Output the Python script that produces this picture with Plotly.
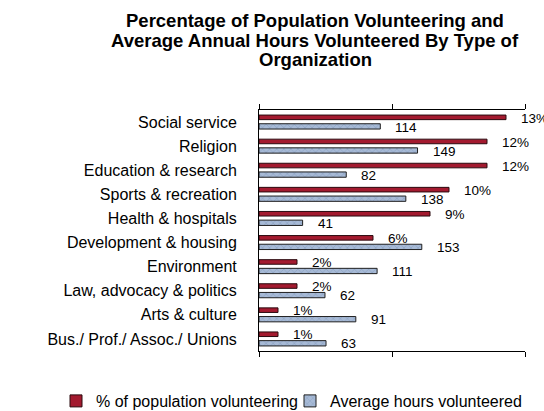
import plotly.graph_objects as go

categories = ["Social service", "Religion", "Education & research", "Sports & recreation",
              "Health & hospitals", "Development & housing", "Environment",
              "Law, advocacy & politics", "Arts & culture", "Bus./ Prof./ Assoc./ Unions"]
pct_volunteering = [13, 12, 12, 10, 9, 6, 2, 2, 1, 1]
avg_hours = [114, 149, 82, 138, 41, 153, 111, 62, 91, 63]
pct_labels = [f"{v}%" for v in pct_volunteering]
hour_labels = [str(v) for v in avg_hours]
title_lines = ["Percentage of Population Volunteering and",
               "Average Annual Hours Volunteered By Type of",
               "Organization"]

FONT = "Liberation Sans, Arial, sans-serif"
RED = "#A31A2F"
BLUE = "#A7BAD6"

W, H = 544, 411
L, R, T, B = 259, 19, 110, 60
PW, PH = W - L - R, H - T - B


def px_x(px):
    return (px - L) / PW


def px_y(py):
    return (H - B - py) / PH


fig = go.Figure()
fig.add_trace(go.Bar(
    y=categories, x=pct_volunteering, orientation="h", xaxis="x2", yaxis="y",
    name="% of population volunteering", legend="legend",
    offset=-0.29, width=0.19,
    marker=dict(color=RED, line=dict(color="#2b0a0f", width=1)),
))
fig.add_trace(go.Bar(
    y=categories, x=avg_hours, orientation="h", xaxis="x", yaxis="y",
    name="Average hours volunteered", legend="legend2",
    offset=0.07, width=0.22,
    marker=dict(color=BLUE, line=dict(color="#1f1f1f", width=1),
                pattern=dict(shape="x", fgcolor="#7E95B8", size=5, solidity=0.3)),
))

annotations = []
for c, v, t in zip(categories, pct_volunteering, pct_labels):
    annotations.append(dict(x=v, y=c, xref="x2", yref="y", text=t, showarrow=False,
                            xanchor="left", yanchor="middle", xshift=13, yshift=4,
                            font=dict(family=FONT, size=13.5, color="#000")))
for c, v, t in zip(categories, avg_hours, hour_labels):
    annotations.append(dict(x=v, y=c, xref="x", yref="y", text=t, showarrow=False,
                            xanchor="left", yanchor="middle", xshift=13, yshift=-5,
                            font=dict(family=FONT, size=13.5, color="#000")))

title_centers = [20, 40.5, 59]
for line, cy in zip(title_lines, title_centers):
    annotations.append(dict(x=px_x(315), y=px_y(cy), xref="paper", yref="paper",
                            text=f"<b>{line}</b>", showarrow=False,
                            xanchor="center", yanchor="middle",
                            font=dict(family=FONT, size=18.5, color="#000")))

axis_common = dict(showgrid=False, zeroline=False, showline=True, linecolor="black",
                   linewidth=1, ticks="outside", ticklen=5, tickcolor="black",
                   showticklabels=False)

legend_common = dict(orientation="h", xanchor="left", xref="container",
                     y=1 - 401 / H, yanchor="middle", yref="container",
                     font=dict(family=FONT, size=16, color="#000"),
                     bgcolor="rgba(0,0,0,0)")

fig.update_layout(
    width=W, height=H,
    margin=dict(l=L, r=R, t=T, b=B),
    paper_bgcolor="white", plot_bgcolor="white",
    font=dict(family=FONT, size=16, color="#000"),
    xaxis=dict(range=[0, 250], dtick=125, side="bottom", **axis_common),
    xaxis2=dict(range=[0, 14], dtick=7, side="top", overlaying="x", **axis_common),
    yaxis=dict(categoryorder="array", categoryarray=categories, range=[9.5, -0.5],
               showgrid=False, zeroline=False, showline=True, linecolor="black",
               linewidth=1, ticks="", ticklabelstandoff=18,
               tickfont=dict(family=FONT, size=16, color="#000")),
    showlegend=True,
    legend=dict(x=56 / W, **legend_common),
    legend2=dict(x=290 / W, **legend_common),
    annotations=annotations,
)

fig.write_html("out.html")
